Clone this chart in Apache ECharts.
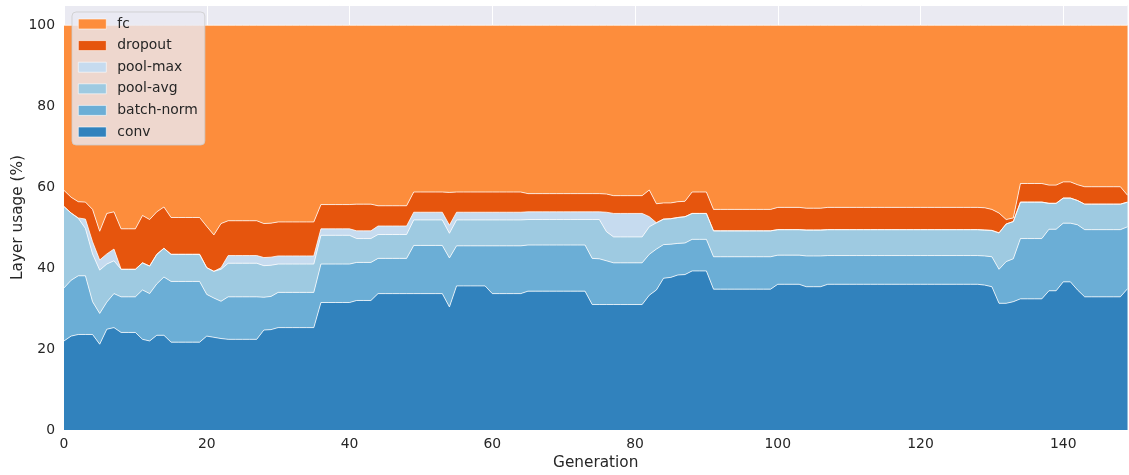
<!DOCTYPE html>
<html>
<head>
<meta charset="utf-8">
<script src="https://cdn.jsdelivr.net/npm/echarts@6/dist/echarts.min.js"></script>
<style>
html,body{margin:0;padding:0;background:#ffffff;}
#chart{width:1129px;height:475px;}
</style>
</head>
<body>
<div id="chart"></div>
<script>
// Generations 0..149 (category labels)
const generations = Array.from({length: 150}, (_, i) => String(i));

const seriesNames = ['conv', 'batch-norm', 'pool-avg', 'pool-max', 'dropout', 'fc'];
const yTicks = [0, 20, 40, 60, 80, 100];

// Layer usage (%) per generation
const conv = [
  22.0, 23.2, 23.6, 23.6, 23.6, 21.2, 24.9, 25.3, 24.1, 24.1,
  24.1, 22.4, 22.0, 23.4, 23.4, 21.7, 21.7, 21.7, 21.7, 21.7,
  23.2, 22.9, 22.6, 22.4, 22.4, 22.4, 22.4, 22.4, 24.7, 24.8,
  25.3, 25.3, 25.3, 25.3, 25.3, 25.3, 31.5, 31.5, 31.5, 31.5,
  31.5, 32.0, 32.0, 32.0, 33.7, 33.7, 33.7, 33.7, 33.7, 33.7,
  33.7, 33.7, 33.7, 33.7, 30.4, 35.6, 35.6, 35.6, 35.6, 35.6,
  33.7, 33.7, 33.7, 33.7, 33.7, 34.3, 34.3, 34.3, 34.3, 34.3,
  34.3, 34.3, 34.3, 34.3, 31.0, 31.0, 31.0, 31.0, 31.0, 31.0,
  31.0, 31.0, 33.3, 34.6, 37.5, 37.7, 38.3, 38.4, 39.3, 39.3,
  39.3, 34.8, 34.8, 34.8, 34.8, 34.8, 34.8, 34.8, 34.8, 34.8,
  36.0, 36.0, 36.0, 36.0, 35.4, 35.4, 35.4, 36.0, 36.0, 36.0,
  36.0, 36.0, 36.0, 36.0, 36.0, 36.0, 36.0, 36.0, 36.0, 36.0,
  36.0, 36.0, 36.0, 36.0, 36.0, 36.0, 36.0, 36.0, 36.0, 35.8,
  35.4, 31.3, 31.3, 31.7, 32.4, 32.4, 32.4, 32.4, 34.4, 34.4,
  36.6, 36.6, 34.6, 32.9, 32.9, 32.9, 32.9, 32.9, 32.9, 34.9
];
const batchNorm = [
  13.1, 13.8, 14.5, 14.5, 8.1, 7.6, 6.7, 8.4, 8.8, 8.8,
  8.8, 12.2, 11.7, 12.7, 14.4, 15.0, 15.0, 15.0, 15.0, 15.0,
  10.3, 9.7, 9.2, 10.5, 10.5, 10.5, 10.5, 10.5, 8.1, 8.2,
  8.7, 8.7, 8.7, 8.7, 8.7, 8.7, 9.5, 9.5, 9.5, 9.5,
  9.5, 9.4, 9.4, 9.4, 8.7, 8.7, 8.7, 8.7, 8.7, 11.9,
  11.9, 11.9, 11.9, 11.9, 12.1, 9.9, 9.9, 9.9, 9.9, 9.9,
  11.8, 11.8, 11.8, 11.8, 11.8, 11.4, 11.4, 11.4, 11.4, 11.4,
  11.4, 11.4, 11.4, 11.4, 11.4, 11.3, 10.8, 10.3, 10.3, 10.3,
  10.3, 10.3, 10.1, 10.1, 8.3, 8.2, 7.8, 7.8, 7.8, 7.8,
  7.8, 8.0, 8.0, 8.0, 8.0, 8.0, 8.0, 8.0, 8.0, 8.0,
  7.2, 7.2, 7.2, 7.2, 7.6, 7.6, 7.6, 7.1, 7.1, 7.1,
  7.1, 7.1, 7.1, 7.1, 7.1, 7.1, 7.1, 7.1, 7.1, 7.1,
  7.1, 7.1, 7.1, 7.1, 7.1, 7.1, 7.1, 7.1, 7.1, 7.2,
  7.4, 8.4, 10.3, 10.6, 14.9, 14.9, 14.9, 14.9, 15.2, 15.2,
  14.5, 14.5, 16.1, 16.6, 16.6, 16.6, 16.6, 16.6, 16.6, 15.3
];
const poolAvg = [
  20.1, 16.6, 14.2, 11.7, 11.8, 10.7, 9.4, 8.1, 6.8, 6.8,
  6.8, 6.7, 6.8, 7.3, 7.1, 6.7, 6.7, 6.7, 6.7, 6.7,
  6.6, 6.6, 7.9, 8.3, 8.3, 8.3, 8.3, 8.3, 7.8, 7.7,
  7.0, 7.0, 7.0, 7.0, 7.0, 7.0, 7.1, 7.1, 7.1, 7.1,
  7.1, 5.9, 5.9, 5.9, 5.9, 5.9, 5.9, 5.9, 5.9, 6.3,
  6.3, 6.3, 6.3, 6.3, 6.1, 6.4, 6.4, 6.4, 6.4, 6.4,
  6.4, 6.4, 6.4, 6.4, 6.4, 6.3, 6.3, 6.3, 6.3, 6.3,
  6.3, 6.3, 6.3, 6.3, 9.6, 9.7, 7.2, 6.4, 6.4, 6.4,
  6.4, 6.4, 6.8, 6.5, 6.3, 6.3, 6.4, 6.5, 6.4, 6.4,
  6.4, 6.4, 6.4, 6.4, 6.4, 6.4, 6.4, 6.4, 6.4, 6.4,
  6.3, 6.3, 6.3, 6.3, 6.4, 6.4, 6.4, 6.4, 6.4, 6.4,
  6.4, 6.4, 6.4, 6.4, 6.4, 6.4, 6.4, 6.4, 6.4, 6.4,
  6.4, 6.4, 6.4, 6.4, 6.4, 6.4, 6.4, 6.4, 6.4, 6.4,
  6.5, 9.0, 9.3, 9.2, 9.0, 9.0, 9.0, 9.0, 6.4, 6.4,
  6.2, 6.2, 6.0, 6.3, 6.3, 6.3, 6.3, 6.3, 6.3, 6.1
];
const poolMax = [
  0, 0, 0.1, 2.3, 3.0, 2.5, 2.5, 2.9, 0, 0,
  0, 0, 0, 0, 0, 0, 0, 0, 0, 0,
  0, 0, 0.4, 1.9, 1.9, 1.9, 1.9, 1.9, 2.0, 2.0,
  2.0, 2.0, 2.0, 2.0, 2.0, 2.0, 1.6, 1.6, 1.6, 1.6,
  1.6, 1.9, 1.9, 1.9, 2.1, 2.1, 2.1, 2.1, 2.1, 1.9,
  1.9, 1.9, 1.9, 1.9, 2.0, 1.9, 1.9, 1.9, 1.9, 1.9,
  1.9, 1.9, 1.9, 1.9, 1.9, 1.9, 1.9, 1.9, 1.9, 1.9,
  1.9, 1.9, 1.9, 1.9, 1.9, 1.9, 4.8, 5.8, 5.8, 5.8,
  5.8, 5.8, 2.5, 0, 0, 0, 0, 0, 0, 0,
  0, 0, 0, 0, 0, 0, 0, 0, 0, 0,
  0, 0, 0, 0, 0, 0, 0, 0, 0, 0,
  0, 0, 0, 0, 0, 0, 0, 0, 0, 0,
  0, 0, 0, 0, 0, 0, 0, 0, 0, 0,
  0, 0, 0, 0, 0, 0, 0, 0, 0, 0,
  0, 0, 0, 0, 0, 0, 0, 0, 0, 0
];
const dropout = [
  4.0, 3.9, 4.0, 4.2, 8.0, 7.1, 10.0, 9.2, 10.0, 10.0,
  10.0, 11.7, 11.5, 10.5, 10.2, 9.1, 9.1, 9.1, 9.1, 9.1,
  10.2, 9.0, 10.9, 8.6, 8.6, 8.6, 8.6, 8.6, 8.4, 8.4,
  8.4, 8.4, 8.4, 8.4, 8.4, 8.4, 6.0, 6.0, 6.0, 6.0,
  6.0, 6.6, 6.6, 6.6, 5.0, 5.0, 5.0, 5.0, 5.0, 5.0,
  5.0, 5.0, 5.0, 5.0, 8.1, 5.0, 5.0, 5.0, 5.0, 5.0,
  5.0, 5.0, 5.0, 5.0, 5.0, 4.5, 4.5, 4.5, 4.5, 4.5,
  4.5, 4.5, 4.5, 4.5, 4.5, 4.5, 4.5, 4.4, 4.4, 4.4,
  4.4, 4.4, 6.6, 4.7, 4.0, 3.9, 3.9, 3.8, 5.3, 5.3,
  5.3, 5.3, 5.3, 5.3, 5.3, 5.3, 5.3, 5.3, 5.3, 5.3,
  5.5, 5.5, 5.5, 5.5, 5.4, 5.4, 5.4, 5.5, 5.5, 5.5,
  5.5, 5.5, 5.5, 5.5, 5.5, 5.5, 5.5, 5.5, 5.5, 5.5,
  5.5, 5.5, 5.5, 5.5, 5.5, 5.5, 5.5, 5.5, 5.5, 5.5,
  5.2, 4.9, 1.1, 0.9, 4.6, 4.6, 4.6, 4.6, 4.5, 4.5,
  4.0, 4.0, 3.9, 4.3, 4.3, 4.3, 4.3, 4.3, 4.3, 1.7
];
const fc = [
  40.8, 42.5, 43.6, 43.7, 45.5, 50.9, 46.5, 46.1, 50.3, 50.3,
  50.3, 47.0, 48.0, 46.1, 44.9, 47.5, 47.5, 47.5, 47.5, 47.5,
  49.7, 51.8, 49.0, 48.3, 48.3, 48.3, 48.3, 48.3, 49.0, 48.9,
  48.6, 48.6, 48.6, 48.6, 48.6, 48.6, 44.3, 44.3, 44.3, 44.3,
  44.3, 44.2, 44.2, 44.2, 44.6, 44.6, 44.6, 44.6, 44.6, 41.2,
  41.2, 41.2, 41.2, 41.2, 41.3, 41.2, 41.2, 41.2, 41.2, 41.2,
  41.2, 41.2, 41.2, 41.2, 41.2, 41.6, 41.6, 41.6, 41.6, 41.6,
  41.6, 41.6, 41.6, 41.6, 41.6, 41.6, 41.7, 42.1, 42.1, 42.1,
  42.1, 42.1, 40.7, 44.1, 43.9, 43.9, 43.6, 43.5, 41.2, 41.2,
  41.2, 45.5, 45.5, 45.5, 45.5, 45.5, 45.5, 45.5, 45.5, 45.5,
  45.0, 45.0, 45.0, 45.0, 45.2, 45.2, 45.2, 45.0, 45.0, 45.0,
  45.0, 45.0, 45.0, 45.0, 45.0, 45.0, 45.0, 45.0, 45.0, 45.0,
  45.0, 45.0, 45.0, 45.0, 45.0, 45.0, 45.0, 45.0, 45.0, 45.1,
  45.5, 46.4, 48.0, 47.6, 39.1, 39.1, 39.1, 39.1, 39.5, 39.5,
  38.7, 38.7, 39.4, 39.9, 39.9, 39.9, 39.9, 39.9, 39.9, 42.0
];

const seriesValues = [conv, batchNorm, poolAvg, poolMax, dropout, fc];
const seriesColors = ['#3182bd', '#6baed6', '#9ecae1', '#c6dbef', '#e6550d', '#fd8d3c'];

const textColor = '#262626';
const fontFamily = '"DejaVu Sans", sans-serif';

const chart = echarts.init(document.getElementById('chart'), null, {renderer: 'canvas'});

const option = {
  animation: false,
  backgroundColor: '#ffffff',
  textStyle: {fontFamily: fontFamily, color: textColor},
  grid: {
    left: 64, right: 1.5, top: 5, bottom: 45,
    outerBoundsMode: 'none',
    containLabel: false,
    show: true, backgroundColor: '#EAEAF2', borderWidth: 0
  },
  legend: {
    orient: 'vertical',
    left: 72, top: 12,
    data: seriesNames.slice().reverse(),
    icon: 'rect',
    itemWidth: 28, itemHeight: 10,
    itemGap: 7.6,
    padding: [5, 7, 6, 6],
    backgroundColor: 'rgba(234,234,242,0.8)',
    borderColor: 'rgba(204,204,204,0.8)',
    borderWidth: 1,
    borderRadius: 4,
    textStyle: {fontSize: 13.9, color: textColor, fontFamily: fontFamily, padding: [0, 0, 0, 6]},
    itemStyle: {borderColor: '#ffffff', borderWidth: 0.6}
  },
  xAxis: {
    type: 'category',
    data: generations,
    boundaryGap: false,
    name: 'Generation',
    nameLocation: 'middle',
    nameGap: 26,
    nameMoveOverlap: false,
    nameTextStyle: {fontSize: 15.3, color: textColor, fontFamily: fontFamily},
    axisLine: {show: false},
    axisTick: {show: false},
    axisLabel: {interval: 19, fontSize: 13.9, color: textColor, margin: 7, fontFamily: fontFamily},
    splitLine: {show: true, interval: 19, lineStyle: {color: '#ffffff', width: 1}}
  },
  yAxis: {
    type: 'value',
    min: 0, max: 105, interval: 20,
    name: 'Layer usage (%)',
    nameLocation: 'middle',
    nameGap: 38,
    nameMoveOverlap: false,
    nameTextStyle: {fontSize: 15.3, color: textColor, fontFamily: fontFamily},
    axisLine: {show: false},
    axisTick: {show: false},
    axisLabel: {
      fontSize: 13.9, color: textColor, margin: 9, fontFamily: fontFamily,
      showMaxLabel: false,
      formatter: function (v) { return yTicks.indexOf(v) >= 0 ? String(v) : ''; }
    },
    splitLine: {show: true, lineStyle: {color: '#ffffff', width: 1}}
  },
  series: seriesNames.map(function (name, i) {
    return {
      name: name,
      type: 'line',
      stack: 'total',
      data: seriesValues[i],
      symbol: 'none',
      smooth: false,
      color: seriesColors[i],
      lineStyle: {color: 'rgba(255,255,255,0.85)', width: 0.9},
      areaStyle: {color: seriesColors[i], opacity: 1},
      itemStyle: {color: seriesColors[i]},
      emphasis: {disabled: true}
    };
  })
};

chart.setOption(option);
</script>
</body>
</html>
